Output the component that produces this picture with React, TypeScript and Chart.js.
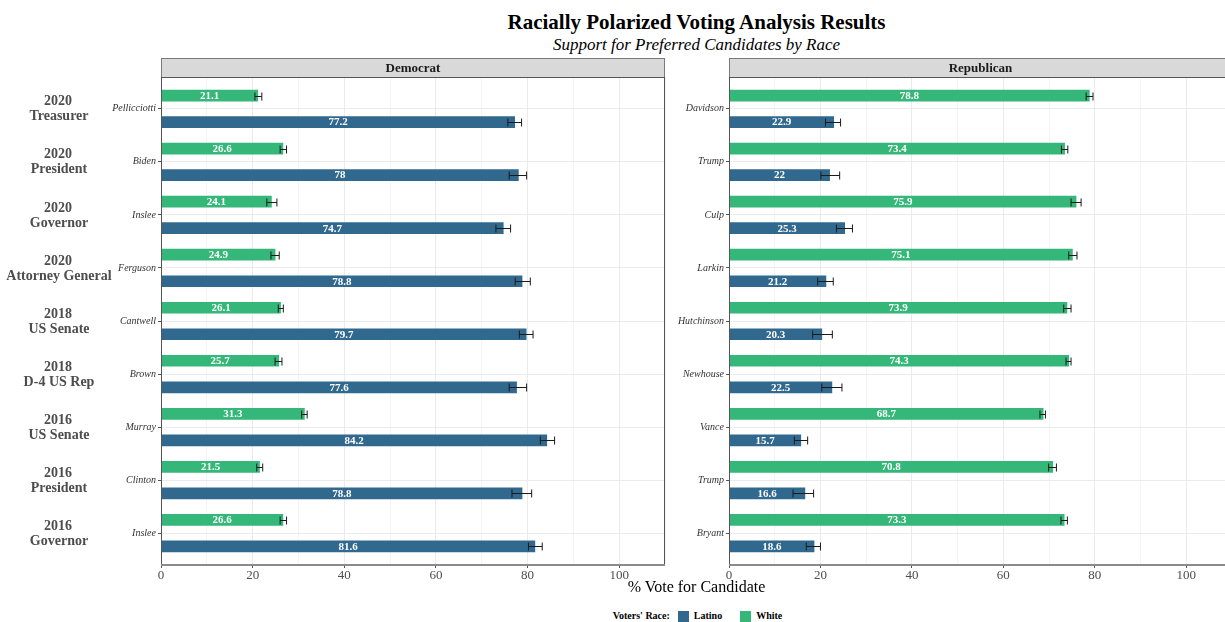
import React, { useEffect, useRef } from "react";
import { Chart, registerables } from "chart.js";

Chart.register(...registerables);

const FONT = "'Liberation Serif', 'Times New Roman', serif";

const contests = [
  ["2020", "Treasurer"],
  ["2020", "President"],
  ["2020", "Governor"],
  ["2020", "Attorney General"],
  ["2018", "US Senate"],
  ["2018", "D-4 US Rep"],
  ["2016", "US Senate"],
  ["2016", "President"],
  ["2016", "Governor"],
];

const demCandidates = ["Pellicciotti", "Biden", "Inslee", "Ferguson", "Cantwell", "Brown", "Murray", "Clinton", "Inslee"];
const demWhite = [21.1, 26.6, 24.1, 24.9, 26.1, 25.7, 31.3, 21.5, 26.6];
const demWhiteLo = [20.5, 26.0, 23.1, 24.0, 25.6, 24.9, 30.7, 20.9, 26.0];
const demWhiteHi = [22.0, 27.4, 25.3, 25.8, 26.7, 26.4, 31.9, 22.2, 27.4];
const demLatino = [77.2, 78, 74.7, 78.8, 79.7, 77.6, 84.2, 78.8, 81.6];
const demLatinoLo = [75.7, 76.0, 73.1, 77.3, 78.2, 76.0, 82.8, 76.6, 80.2];
const demLatinoHi = [78.7, 79.8, 76.3, 80.6, 81.2, 79.8, 85.9, 80.9, 83.2];

const repCandidates = ["Davidson", "Trump", "Culp", "Larkin", "Hutchinson", "Newhouse", "Vance", "Trump", "Bryant"];
const repWhite = [78.8, 73.4, 75.9, 75.1, 73.9, 74.3, 68.7, 70.8, 73.3];
const repWhiteLo = [78.1, 72.7, 74.8, 74.3, 73.2, 73.7, 68.0, 69.9, 72.6];
const repWhiteHi = [79.6, 74.1, 77.0, 76.1, 74.8, 74.8, 69.2, 71.6, 74.0];
const repLatino = [22.9, 22, 25.3, 21.2, 20.3, 22.5, 15.7, 16.6, 18.6];
const repLatinoLo = [21.1, 20.1, 23.5, 19.4, 18.3, 20.3, 14.3, 14.0, 16.9];
const repLatinoHi = [24.4, 24.2, 27.0, 22.8, 22.6, 24.7, 17.2, 18.5, 20.0];

const LATINO_COLOR = "#31688E";
const WHITE_COLOR = "#35B779";
const X_MIN = 0;
const X_MAX = 110;
const X_STEP = 10;

type PanelProps = {
  title: string;
  candidates: string[];
  white: number[];
  whiteLo: number[];
  whiteHi: number[];
  latino: number[];
  latinoLo: number[];
  latinoHi: number[];
  groupLabels: boolean;
  width: number;
  height: number;
  axisWidth: number;
  left: number;
  top: number;
};

function Panel(p: PanelProps) {
  const ref = useRef<HTMLCanvasElement | null>(null);
  useEffect(() => {
    if (!ref.current) return;
    const errs = [
      { lo: p.whiteLo, hi: p.whiteHi },
      { lo: p.latinoLo, hi: p.latinoHi },
    ];
    const panelPlugin = {
      id: "panelDeco",
      beforeDraw(chart: any) {
        const { ctx, chartArea } = chart;
        ctx.save();
        const sh = 19;
        const sy = chartArea.top - sh;
        ctx.fillStyle = "#d9d9d9";
        ctx.fillRect(chartArea.left, sy, chartArea.right - chartArea.left, sh);
        ctx.strokeStyle = "#7a7a7a";
        ctx.lineWidth = 1;
        ctx.strokeRect(chartArea.left + 0.5, sy + 0.5, chartArea.right - chartArea.left - 1, sh);
        ctx.fillStyle = "#1a1a1a";
        ctx.font = `bold 13px ${FONT}`;
        ctx.textAlign = "center";
        ctx.textBaseline = "middle";
        ctx.fillText(p.title, (chartArea.left + chartArea.right) / 2, sy + sh / 2 + 1);
        ctx.restore();
      },
      afterDatasetsDraw(chart: any) {
        const { ctx, chartArea } = chart;
        const xs = chart.scales.x;
        const ys = chart.scales.y;
        ctx.save();
        ctx.strokeStyle = "#1a1a1a";
        ctx.lineWidth = 1;
        chart.data.datasets.forEach((ds: any, di: number) => {
          const meta = chart.getDatasetMeta(di);
          meta.data.forEach((el: any, i: number) => {
            const y = Math.round(el.y) + 0.5;
            const x1 = xs.getPixelForValue(errs[di].lo[i]);
            const x2 = xs.getPixelForValue(errs[di].hi[i]);
            ctx.beginPath();
            ctx.moveTo(x1, y);
            ctx.lineTo(x2, y);
            ctx.moveTo(x1, y - 4);
            ctx.lineTo(x1, y + 4);
            ctx.moveTo(x2, y - 4);
            ctx.lineTo(x2, y + 4);
            ctx.stroke();
          });
        });
        ctx.fillStyle = "#ffffff";
        ctx.font = `bold 11px ${FONT}`;
        ctx.textAlign = "center";
        ctx.textBaseline = "middle";
        chart.data.datasets.forEach((ds: any, di: number) => {
          const meta = chart.getDatasetMeta(di);
          meta.data.forEach((el: any, i: number) => {
            const v = ds.data[i].x;
            const cx = (el.x + el.base) / 2;
            ctx.fillText(String(v), cx, el.y + 0.5);
          });
        });
        ctx.strokeStyle = "#555555";
        ctx.lineWidth = 1;
        ctx.strokeRect(chartArea.left + 0.5, chartArea.top + 0.5, chartArea.right - chartArea.left - 1, chartArea.bottom - chartArea.top);
        ctx.strokeStyle = "#8a8a8a";
        ctx.lineWidth = 2;
        ctx.beginPath();
        ctx.moveTo(chartArea.left, chartArea.bottom);
        ctx.lineTo(chartArea.right, chartArea.bottom);
        ctx.stroke();
        if (p.groupLabels) {
          ctx.fillStyle = "#4d4d4d";
          ctx.font = `bold 14px ${FONT}`;
          ctx.textAlign = "center";
          ctx.textBaseline = "middle";
          contests.forEach((c, i) => {
            const y = ys.getPixelForValue(i);
            ctx.fillText(c[0], 58, y - 7);
            ctx.fillText(c[1], 59, y + 8);
          });
        }
        ctx.restore();
      },
    };

    const chart = new Chart(ref.current, {
      type: "bar",
      data: {
        datasets: [
          {
            label: "White",
            data: p.white.map((v, i) => ({ x: v, y: i - 0.25 })),
            backgroundColor: WHITE_COLOR,
            borderWidth: 0,
            barThickness: 11,
            grouped: false,
          } as any,
          {
            label: "Latino",
            data: p.latino.map((v, i) => ({ x: v, y: i + 0.25 })),
            backgroundColor: LATINO_COLOR,
            borderWidth: 0,
            barThickness: 11,
            grouped: false,
          } as any,
        ],
      },
      options: {
        indexAxis: "y",
        animation: false,
        responsive: false,
        maintainAspectRatio: false,
        devicePixelRatio: 1,
        layout: { padding: { top: 27, right: 3, left: 0, bottom: 0 } },
        plugins: { legend: { display: false }, tooltip: { enabled: false } },
        scales: {
          x: {
            type: "linear",
            min: X_MIN,
            max: X_MAX,
            offset: false,
            border: { display: false },
            afterFit: (s: any) => {
              s.height = 25;
            },
            grid: {
              offset: false,
              color: (c: any) => (c.tick && c.tick.value % 20 === 0 ? "#ebebeb" : "#f4f4f4"),
              tickColor: (c: any) => (c.tick && c.tick.value % 20 === 0 ? "#555555" : "rgba(0,0,0,0)"),
              tickLength: 3,
              lineWidth: 1,
            },
            ticks: {
              stepSize: X_STEP,
              autoSkip: false,
              maxRotation: 0,
              padding: 0,
              color: "#4d4d4d",
              font: { family: FONT, size: 13 },
              callback: (v: any) => (Number(v) % 20 === 0 && Number(v) <= 100 ? String(v) : ""),
            },
          },
          y: {
            type: "linear",
            min: -0.6,
            max: 8.6,
            reverse: true,
            offset: false,
            bounds: "data",
            border: { display: false },
            afterBuildTicks: (s: any) => {
              s.ticks = p.candidates.map((_, i) => ({ value: i }));
            },
            afterFit: (s: any) => {
              s.width = p.axisWidth;
            },
            grid: {
              offset: false,
              color: "#ebebeb",
              tickColor: "#555555",
              tickLength: 3,
              lineWidth: 1,
            },
            ticks: {
              autoSkip: false,
              padding: 2,
              color: "#333333",
              font: { family: FONT, size: 10, style: "italic" },
              callback: (v: any, idx: number) => p.candidates[idx],
            },
          },
        },
      } as any,
      plugins: [panelPlugin],
    });
    return () => chart.destroy();
  }, []);
  return (
    <canvas
      ref={ref}
      width={p.width}
      height={p.height}
      style={{ position: "absolute", left: p.left, top: p.top, width: p.width, height: p.height }}
    />
  );
}

const legendItems = [
  { label: "Latino", color: LATINO_COLOR },
  { label: "White", color: WHITE_COLOR },
];

export default function App() {
  return (
    <div
      style={{
        position: "fixed",
        left: 0,
        top: 0,
        width: 1225,
        height: 622,
        overflow: "hidden",
        background: "#ffffff",
        fontFamily: FONT,
      }}
    >
      <div
        style={{
          position: "absolute",
          left: 161,
          width: 1071,
          top: 9,
          textAlign: "center",
          fontWeight: "bold",
          fontSize: 21,
          lineHeight: "26px",
          color: "#000",
        }}
      >
        Racially Polarized Voting Analysis Results
      </div>
      <div
        style={{
          position: "absolute",
          left: 161,
          width: 1071,
          top: 34,
          textAlign: "center",
          fontStyle: "italic",
          fontSize: 17,
          lineHeight: "22px",
          color: "#000",
        }}
      >
        Support for Preferred Candidates by Race
      </div>
      <Panel
        title="Democrat"
        candidates={demCandidates}
        white={demWhite}
        whiteLo={demWhiteLo}
        whiteHi={demWhiteHi}
        latino={demLatino}
        latinoLo={demLatinoLo}
        latinoHi={demLatinoHi}
        groupLabels={true}
        width={668}
        height={540}
        axisWidth={161}
        left={0}
        top={50}
      />
      <Panel
        title="Republican"
        candidates={repCandidates}
        white={repWhite}
        whiteLo={repWhiteLo}
        whiteHi={repWhiteHi}
        latino={repLatino}
        latinoLo={repLatinoLo}
        latinoHi={repLatinoHi}
        groupLabels={false}
        width={575}
        height={540}
        axisWidth={69}
        left={660}
        top={50}
      />
      <div
        style={{
          position: "absolute",
          left: 161,
          width: 1071,
          top: 577,
          textAlign: "center",
          fontSize: 16,
          lineHeight: "20px",
          color: "#000",
        }}
      >
        % Vote for Candidate
      </div>
      <div
        style={{
          position: "absolute",
          left: 0,
          width: 1225,
          top: 610,
          display: "flex",
          justifyContent: "center",
          alignItems: "center",
          fontSize: 10,
          fontWeight: "bold",
          lineHeight: "12px",
          color: "#000",
          paddingLeft: 188,
          boxSizing: "border-box",
        }}
      >
        <span style={{ marginRight: 8 }}>Voters' Race:</span>
        {legendItems.map((it) => (
          <span key={it.label} style={{ display: "flex", alignItems: "center", marginRight: 18 }}>
            <span style={{ width: 11, height: 11, background: it.color, display: "inline-block", marginRight: 5 }} />
            {it.label}
          </span>
        ))}
      </div>
    </div>
  );
}
